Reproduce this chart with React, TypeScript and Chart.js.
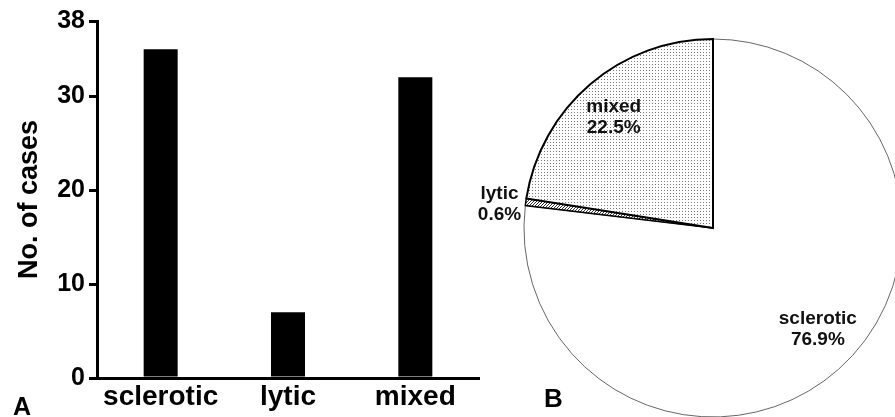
import { useEffect, useRef } from "react";
import { Chart, registerables } from "chart.js";

Chart.register(...registerables);

const barCategories = ["sclerotic", "lytic", "mixed"];
const barCounts = [35, 7, 32];
const yTicks = [0, 10, 20, 30, 38];
const yAxisTitle = "No. of cases";

const pieCategories = ["sclerotic", "lytic", "mixed"];
const piePercents = [76.9, 0.6, 22.5];
// label placement: fraction along each slice's angle, and fraction of the radius
const pieLabelAngleFrac = [0.484, -0.13, 0.483];
const pieLabelRadius = [0.771, 1.137, 0.787];

const panelLetters = ["A", "B"];

const FONT = "'Liberation Sans', Arial, sans-serif";

function makeDots(): CanvasPattern | string {
  const c = document.createElement("canvas");
  c.width = 3;
  c.height = 3;
  const g = c.getContext("2d");
  if (!g) return "#eee";
  g.fillStyle = "#ffffff";
  g.fillRect(0, 0, 3, 3);
  g.fillStyle = "#7a7a7a";
  g.fillRect(1, 1, 1, 1);
  return g.createPattern(c, "repeat") || "#eee";
}

function makeHatch(): CanvasPattern | string {
  const c = document.createElement("canvas");
  c.width = 3;
  c.height = 3;
  const g = c.getContext("2d");
  if (!g) return "#888";
  g.fillStyle = "#ffffff";
  g.fillRect(0, 0, 3, 3);
  g.fillStyle = "#333333";
  g.fillRect(0, 2, 1, 1);
  g.fillRect(1, 1, 1, 1);
  g.fillRect(2, 0, 1, 1);
  return g.createPattern(c, "repeat") || "#888";
}

const pieLabelPlugin = {
  id: "pieLabels",
  afterDatasetsDraw(chart: any) {
    const meta = chart.getDatasetMeta(0);
    const ctx = chart.ctx;
    ctx.save();
    ctx.fillStyle = "#111";
    ctx.font = `bold 19px ${FONT}`;
    ctx.textAlign = "center";
    ctx.textBaseline = "middle";
    meta.data.forEach((arc: any, i: number) => {
      const p = arc.getProps(["x", "y", "startAngle", "endAngle", "outerRadius"], true);
      const ang = p.startAngle + (p.endAngle - p.startAngle) * pieLabelAngleFrac[i];
      const r = p.outerRadius * pieLabelRadius[i];
      const x = p.x + Math.cos(ang) * r;
      const y = p.y + Math.sin(ang) * r;
      ctx.fillText(pieCategories[i], x, y - 10);
      ctx.fillText(piePercents[i].toFixed(1) + "%", x, y + 11);
    });
    ctx.restore();
  },
};

export default function App() {
  const barRef = useRef<HTMLCanvasElement>(null);
  const pieRef = useRef<HTMLCanvasElement>(null);

  useEffect(() => {
    if (!barRef.current || !pieRef.current) return;
    const bar = new Chart(barRef.current, {
      type: "bar",
      data: {
        labels: barCategories,
        datasets: [
          {
            data: barCounts,
            backgroundColor: "#000",
            barPercentage: 0.267,
            categoryPercentage: 1,
          },
        ],
      },
      options: {
        animation: false,
        responsive: true,
        maintainAspectRatio: false,
        layout: { padding: { left: 0, right: 21, top: 21, bottom: 0 } },
        plugins: { legend: { display: false }, tooltip: { enabled: false } },
        scales: {
          x: {
            ticks: { color: "#000", font: { family: FONT, size: 28, weight: "bold" }, padding: 2 },
            grid: { display: false, drawTicks: false },
            border: { display: true, color: "#000", width: 3 },
            afterFit: (s: any) => {
              s.height = 39;
            },
          },
          y: {
            min: 0,
            max: 38,
            afterBuildTicks: (s: any) => {
              s.ticks = yTicks.map((v) => ({ value: v }));
            },
            ticks: { color: "#000", font: { family: FONT, size: 25, weight: "bold" }, padding: 4 },
            grid: { drawOnChartArea: false, drawTicks: true, tickLength: 8, color: "#000", lineWidth: 3 },
            border: { display: true, color: "#000", width: 3 },
            title: {
              display: true,
              text: yAxisTitle,
              color: "#000",
              font: { family: FONT, size: 27, weight: "bold" },
              padding: { top: 13, bottom: 0 },
            },
            afterFit: (s: any) => {
              s.width = 97;
            },
          },
        },
      },
    });

    const pie = new Chart(pieRef.current, {
      type: "pie",
      data: {
        labels: pieCategories,
        datasets: [
          {
            data: piePercents,
            backgroundColor: ["#ffffff", makeHatch(), makeDots()],
            borderColor: ["#666666", "#000000", "#000000"],
            borderWidth: [1, 1.5, 2],
            borderJoinStyle: "miter",
            radius: 189,
          } as any,
        ],
      },
      options: {
        animation: false,
        responsive: true,
        maintainAspectRatio: false,
        layout: { padding: 39 },
        plugins: { legend: { display: false }, tooltip: { enabled: false } },
      },
      plugins: [pieLabelPlugin],
    });

    return () => {
      bar.destroy();
      pie.destroy();
    };
  }, []);

  const letterStyle = {
    position: "absolute" as const,
    fontFamily: FONT,
    fontWeight: "bold" as const,
    lineHeight: 1,
    color: "#000",
  };

  return (
    <div
      style={{
        position: "fixed",
        left: 0,
        top: 0,
        width: 895,
        height: 417,
        overflow: "hidden",
        background: "#fff",
      }}
    >
      <div style={{ position: "absolute", left: 0, top: 0, width: 500, height: 417 }}>
        <canvas ref={barRef} />
      </div>
      <div style={{ position: "absolute", left: 450, top: 0, width: 526, height: 456 }}>
        <canvas ref={pieRef} />
      </div>
      <div style={{ ...letterStyle, left: 13, top: 394, fontSize: 25 }}>{panelLetters[0]}</div>
      <div style={{ ...letterStyle, left: 544, top: 385, fontSize: 26 }}>{panelLetters[1]}</div>
    </div>
  );
}
